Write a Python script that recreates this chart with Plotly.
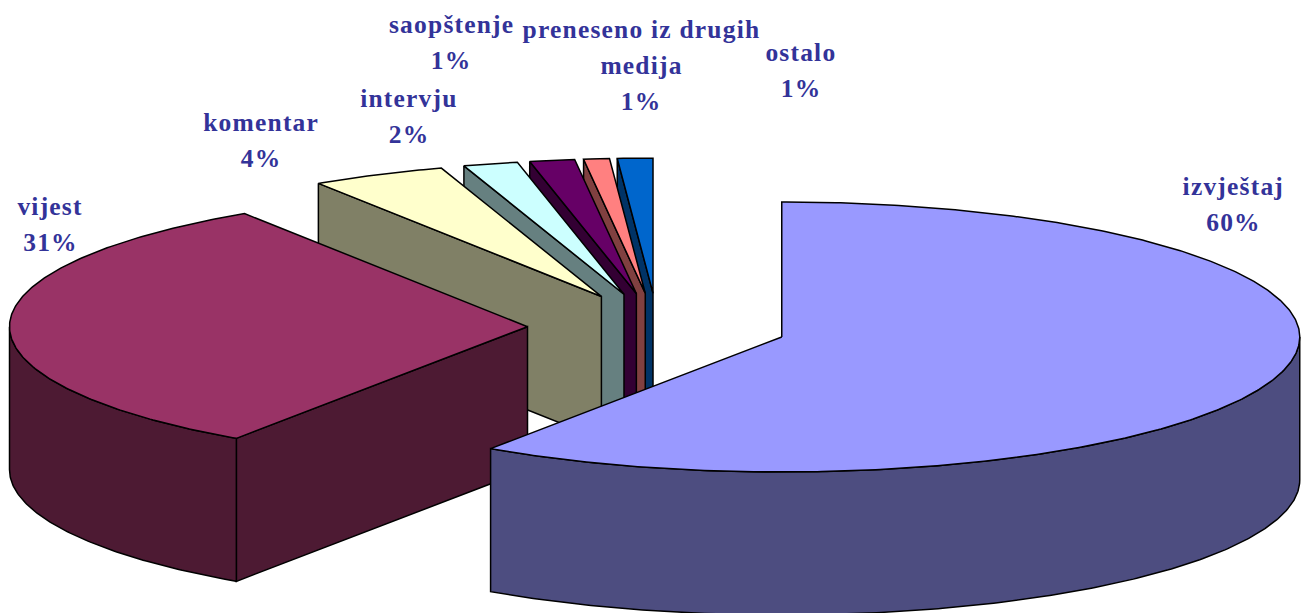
import numpy as np
import plotly.graph_objects as go

categories = ["izvještaj", "vijest", "komentar", "intervju", "saopštenje", "preneseno iz drugih medija", "ostalo"]
values = [59.5, 31.3, 4.2, 1.7, 1.4, 0.8, 1.1]
percent_labels = ["60%", "31%", "4%", "2%", "1%", "1%", "1%"]
top_colors = ["#9999FF", "#993366", "#FFFFCC", "#CCFFFF", "#660066", "#FF8080", "#0066CC"]
wall_colors = ["#4D4D80", "#4D1A33", "#808066", "#668080", "#330033", "#804040", "#003366"]
label_lines = [["izvještaj"], ["vijest"], ["komentar"], ["intervju"], ["saopštenje"], ["preneseno iz drugih", "medija"], ["ostalo"]]
label_x = [1233.5, 50, 261, 409, 451, 641, 801]
label_y = [186, 206, 122, 98, 24, 29, 52]
LINE_GAP = 36
FONT_SIZE = 25.5

CX, CY = 657.5, 327
RX, RY = 518, 135
EXPLODE = 130
DEPTH = 143


def arc(a0, a1, ox, oy, dz=0.0):
    t = np.radians(np.linspace(a0, a1, max(3, int(abs(a1 - a0) * 2))))
    return ox + RX * np.sin(t), oy - RY * np.cos(t) + dz


fracs = np.array(values) / sum(values) * 360
ends = np.cumsum(fracs)
starts = ends - fracs

fig = go.Figure()


def poly(x, y, color):
    fig.add_trace(go.Scatter(x=list(x) + [x[0]], y=list(y) + [y[0]], mode="lines", fill="toself",
                             fillcolor=color, line=dict(color="black", width=1.5),
                             hoverinfo="skip", showlegend=False))


for i in range(len(values) - 1, -1, -1):
    a0, a1 = starts[i], ends[i]
    mid = np.radians((a0 + a1) / 2)
    ox = CX + EXPLODE * np.sin(mid)
    oy = CY - EXPLODE * RY / RX * np.cos(mid)
    # radial wall on the start edge, only for slices on the back-left
    if a0 > 180:
        ex, ey = arc(a0, a0, ox, oy)
        poly([ex[0], ox, ox, ex[0]], [ey[0], oy, oy + DEPTH, ey[0] + DEPTH], wall_colors[i])
    # outer rim wall, the part facing the viewer
    w0, w1 = max(a0, 90), min(a1, 270)
    if w1 > w0:
        ux, uy = arc(w0, w1, ox, oy)
        dx, dy = arc(w0, w1, ox, oy, DEPTH)
        poly(np.r_[ux, dx[::-1]], np.r_[uy, dy[::-1]], wall_colors[i])
    tx, ty = arc(a0, a1, ox, oy)
    poly(np.r_[ox, tx], np.r_[oy, ty], top_colors[i])

for i, lines in enumerate(label_lines):
    texts = lines + [percent_labels[i]]
    for j, s in enumerate(texts):
        fig.add_annotation(x=label_x[i], y=label_y[i] + j * LINE_GAP, text=f"<b>{s}</b>", showarrow=False,
                           xanchor="center", yanchor="middle",
                           font=dict(family="Liberation Serif", size=FONT_SIZE, color="#333399"))

fig.update_layout(width=1301, height=613, margin=dict(l=0, r=0, t=0, b=0),
                  paper_bgcolor="white", plot_bgcolor="white", showlegend=False,
                  xaxis=dict(range=[0, 1301], visible=False, fixedrange=True),
                  yaxis=dict(range=[613, 0], visible=False, fixedrange=True))
post = ("document.body.style.margin='0';document.body.style.overflow='hidden';"
        "document.querySelectorAll('.annotation-text').forEach(function(t){t.style.letterSpacing='1.2px';});")
fig.write_html("out.html", config={"displayModeBar": False}, post_script=post)
